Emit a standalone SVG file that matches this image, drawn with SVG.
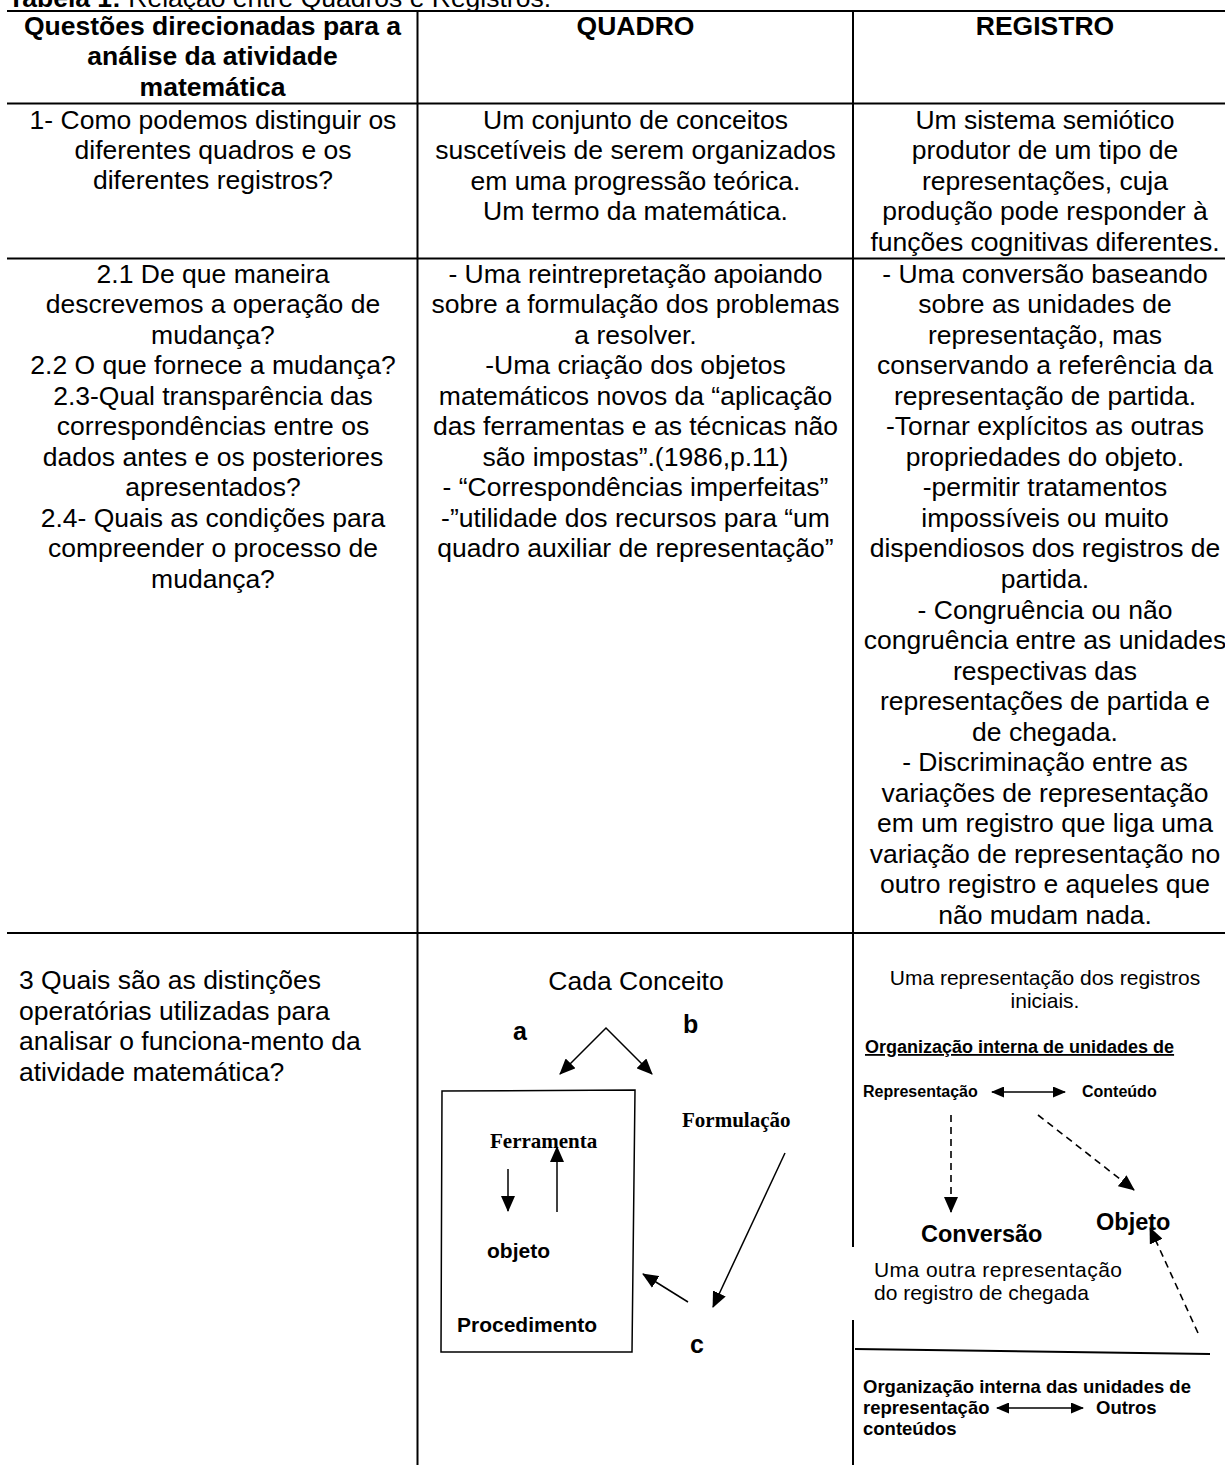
<svg xmlns="http://www.w3.org/2000/svg" width="1225" height="1465" viewBox="0 0 1225 1465">
<style>
  .t { font-family: "Liberation Sans", Arial, sans-serif; font-size: 26.5px; fill: #000; }
  .b { font-weight: bold; }
  .c { text-anchor: middle; }
  .sm { font-size: 21px; }
  .s16 { font-size: 16px; font-weight: bold; }
  .s18 { font-size: 18.5px; font-weight: bold; }
  .s23 { font-size: 23.5px; font-weight: bold; }
  .lbl { font-size: 25px; font-weight: bold; }
  .d21 { font-size: 21px; font-weight: bold; }
  .serif { font-family: "Liberation Serif", "Times New Roman", serif; font-size: 21px; font-weight: bold; fill: #000; }
  .grid { stroke: #000; stroke-width: 2; fill: none; }
  .arr { stroke: #000; stroke-width: 1.5; fill: none; }
  .dash { stroke: #000; stroke-width: 1.6; fill: none; stroke-dasharray: 7 5; }
</style>
<defs>
  <marker id="ah" markerUnits="userSpaceOnUse" markerWidth="16" markerHeight="14" refX="15" refY="7" orient="auto-start-reverse">
    <path d="M0,0 L16,7 L0,14 z" fill="#000"/>
  </marker>
  <marker id="ahs" markerUnits="userSpaceOnUse" markerWidth="13" markerHeight="11" refX="12" refY="5.5" orient="auto-start-reverse">
    <path d="M0,0 L13,5.5 L0,11 z" fill="#000"/>
  </marker>
</defs>
<rect width="1225" height="1465" fill="#fff"/>

<g id="title">
  <text class="t" x="8" y="6.5"><tspan class="b">Tabela 1:</tspan> Relação entre Quadros e Registros.</text>
</g>

<g id="table-grid" class="grid">
  <line x1="7" y1="11" x2="1225" y2="11"/>
  <line x1="7" y1="103.5" x2="1225" y2="103.5"/>
  <line x1="7" y1="258.5" x2="1225" y2="258.5"/>
  <line x1="7" y1="933" x2="1225" y2="933"/>
  <line x1="417.5" y1="10" x2="417.5" y2="1465"/>
  <line x1="853" y1="10" x2="853" y2="1247"/>
  <line x1="853" y1="1320" x2="853" y2="1465"/>
</g>

<g id="header">
  <text class="t b c" x="212.5" y="35">Questões direcionadas para a<tspan x="212.5" dy="30.3">análise da atividade</tspan><tspan x="212.5" dy="30.3">matemática</tspan></text>
  <text class="t b c" x="635.5" y="35">QUADRO</text>
  <text class="t b c" x="1045" y="35">REGISTRO</text>
</g>

<g id="row1">
  <text class="t c" x="213" y="128.5">1- Como podemos distinguir os<tspan x="213" dy="30">diferentes quadros e os</tspan><tspan x="213" dy="30">diferentes registros?</tspan></text>
  <text class="t c" x="635.5" y="128.5">Um conjunto de conceitos<tspan x="635.5" dy="30.5">suscetíveis de serem organizados</tspan><tspan x="635.5" dy="30.5">em uma progressão teórica.</tspan><tspan x="635.5" dy="30.5">Um termo da matemática.</tspan></text>
  <text class="t c" x="1045" y="128.5">Um sistema semiótico<tspan x="1045" dy="30.5">produtor de um tipo de</tspan><tspan x="1045" dy="30.5">representações, cuja</tspan><tspan x="1045" dy="30.5">produção pode responder à</tspan><tspan x="1045" dy="30.5">funções cognitivas diferentes.</tspan></text>
</g>

<g id="row2">
  <text class="t c" x="213" y="282.5">2.1 De que maneira<tspan x="213" dy="30.55">descrevemos a operação de</tspan><tspan x="213" dy="30.55">mudança?</tspan><tspan x="213" dy="30.55">2.2 O que fornece a mudança?</tspan><tspan x="213" dy="30.55">2.3-Qual transparência das</tspan><tspan x="213" dy="30.55">correspondências entre os</tspan><tspan x="213" dy="30.55">dados antes e os posteriores</tspan><tspan x="213" dy="30.55">apresentados?</tspan><tspan x="213" dy="30.55">2.4- Quais as condições para</tspan><tspan x="213" dy="30.55">compreender o processo de</tspan><tspan x="213" dy="30.55">mudança?</tspan></text>
  <text class="t c" x="635.5" y="282.5">- Uma reintrepretação apoiando<tspan x="635.5" dy="30.55">sobre a formulação dos problemas</tspan><tspan x="635.5" dy="30.55">a resolver.</tspan><tspan x="635.5" dy="30.55">-Uma criação dos objetos</tspan><tspan x="635.5" dy="30.55">matemáticos novos da “aplicação</tspan><tspan x="635.5" dy="30.55">das ferramentas e as técnicas não</tspan><tspan x="635.5" dy="30.55">são impostas”.(1986,p.11)</tspan><tspan x="635.5" dy="30.55">- “Correspondências imperfeitas”</tspan><tspan x="635.5" dy="30.55">-”utilidade dos recursos para “um</tspan><tspan x="635.5" dy="30.55">quadro auxiliar de representação”</tspan></text>
  <text class="t c" x="1045" y="282.5">- Uma conversão baseando<tspan x="1045" dy="30.55">sobre as unidades de</tspan><tspan x="1045" dy="30.55">representação, mas</tspan><tspan x="1045" dy="30.55">conservando a referência da</tspan><tspan x="1045" dy="30.55">representação de partida.</tspan><tspan x="1045" dy="30.55">-Tornar explícitos as outras</tspan><tspan x="1045" dy="30.55">propriedades do objeto.</tspan><tspan x="1045" dy="30.55">-permitir tratamentos</tspan><tspan x="1045" dy="30.55">impossíveis ou muito</tspan><tspan x="1045" dy="30.55">dispendiosos dos registros de</tspan><tspan x="1045" dy="30.55">partida.</tspan><tspan x="1045" dy="30.55">- Congruência ou não</tspan><tspan x="1045" dy="30.55">congruência entre as unidades</tspan><tspan x="1045" dy="30.55">respectivas das</tspan><tspan x="1045" dy="30.55">representações de partida e</tspan><tspan x="1045" dy="30.55">de chegada.</tspan><tspan x="1045" dy="30.55">- Discriminação entre as</tspan><tspan x="1045" dy="30.55">variações de representação</tspan><tspan x="1045" dy="30.55">em um registro que liga uma</tspan><tspan x="1045" dy="30.55">variação de representação no</tspan><tspan x="1045" dy="30.55">outro registro e aqueles que</tspan><tspan x="1045" dy="30.55">não mudam nada.</tspan></text>
</g>

<g id="row3-question">
  <text class="t" x="19" y="989">3 Quais são as distinções<tspan x="19" dy="30.5">operatórias utilizadas para</tspan><tspan x="19" dy="30.5">analisar o funciona-mento da</tspan><tspan x="19" dy="30.5">atividade matemática?</tspan></text>
</g>

<g id="quadro-diagram">
  <g id="node-cada-conceito"><text class="t c" x="636" y="990">Cada Conceito</text></g>
  <g id="node-a"><text class="t lbl" x="513" y="1040">a</text></g>
  <g id="node-b"><text class="t lbl" x="683" y="1033">b</text></g>
  <g id="node-box"><polygon points="442,1091 635,1090 632,1352 441,1352" fill="none" stroke="#000" stroke-width="1.5"/></g>
  <g id="node-ferramenta"><text class="serif" x="490" y="1148">Ferramenta</text></g>
  <g id="node-formulacao"><text class="serif" x="682" y="1127">Formulação</text></g>
  <g id="node-objeto"><text class="t d21" x="487" y="1258">objeto</text></g>
  <g id="node-procedimento"><text class="t d21" x="457" y="1332">Procedimento</text></g>
  <g id="node-c"><text class="t lbl" x="690" y="1353">c</text></g>
</g>

<g id="registro-diagram">
  <g id="node-uma-rep"><text class="t sm c" x="1045" y="985">Uma representação dos registros<tspan x="1045" dy="23">iniciais.</tspan></text></g>
  <g id="node-org1"><text class="t s18" x="865" y="1053" text-decoration="underline" style="font-size:18px">Organização interna de unidades de</text></g>
  <g id="node-representacao"><text class="t s16" x="863" y="1097">Representação</text></g>
  <g id="node-conteudo"><text class="t s16" x="1082" y="1097">Conteúdo</text></g>
  <g id="node-conversao"><text class="t s23" x="921" y="1242">Conversão</text></g>
  <g id="node-objeto2"><text class="t s23" x="1096" y="1230">Objeto</text></g>
  <g id="node-outra-rep"><text class="t sm" x="874" y="1277" textLength="248" lengthAdjust="spacing">Uma outra representação</text><text class="t sm" x="874" y="1300">do registro de chegada</text></g>
  <g id="node-separator"><line x1="855" y1="1349" x2="1210" y2="1354" stroke="#000" stroke-width="2"/></g>
  <g id="node-org2"><text class="t s18" x="863" y="1393">Organização interna das unidades de<tspan x="863" dy="21">representação</tspan><tspan x="863" dy="21">conteúdos</tspan></text><text class="t s18" x="1096" y="1414">Outros</text></g>
</g>

<g id="connectors">
  <polyline class="arr" points="560,1074 606,1028 652,1074" marker-start="url(#ah)" marker-end="url(#ah)"/>
  <line class="arr" x1="508" y1="1169" x2="508" y2="1211" marker-end="url(#ah)"/>
  <line class="arr" x1="557" y1="1212" x2="557" y2="1147" marker-end="url(#ah)"/>
  <line class="arr" x1="785" y1="1153" x2="713" y2="1307" marker-end="url(#ah)"/>
  <line class="arr" x1="688" y1="1302" x2="643" y2="1274" marker-end="url(#ah)"/>
  <line class="arr" x1="992" y1="1092" x2="1065" y2="1092" marker-start="url(#ahs)" marker-end="url(#ahs)"/>
  <line class="dash" x1="951" y1="1115" x2="951" y2="1212" marker-end="url(#ah)"/>
  <line class="dash" x1="1038" y1="1115" x2="1134" y2="1190" marker-end="url(#ah)"/>
  <line class="dash" x1="1198" y1="1333" x2="1150" y2="1228" marker-end="url(#ah)"/>
  <line class="arr" x1="997" y1="1408" x2="1083" y2="1408" marker-start="url(#ahs)" marker-end="url(#ahs)"/>
</g>
</svg>
